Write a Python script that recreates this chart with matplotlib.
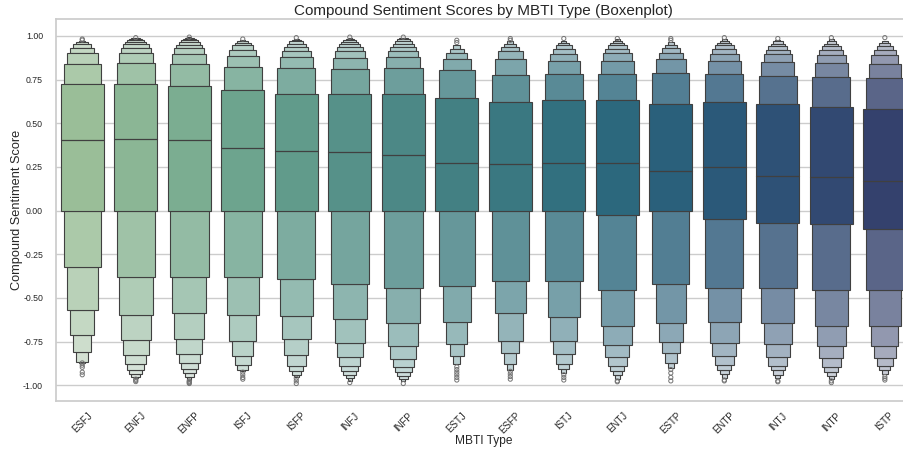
import numpy as np
import matplotlib
matplotlib.use("Agg")
import matplotlib.pyplot as plt
import seaborn as sns

types = ["ESFJ", "ENFJ", "ENFP", "ISFJ", "ISFP", "INFJ", "INFP", "ESTJ",
         "ESFP", "ISTJ", "ENTJ", "ESTP", "ENTP", "INTJ", "INTP", "ISTP"]

medians = [0.403, 0.412, 0.403, 0.357, 0.340, 0.334, 0.317, 0.273,
           0.266, 0.273, 0.271, 0.225, 0.250, 0.200, 0.191, 0.172]

# letter values, first entry = Q3 / Q1, then outwards
upper_lv = [
    [0.723, 0.838, 0.901, 0.933, 0.956, 0.966, 0.972],
    [0.725, 0.844, 0.901, 0.930, 0.952, 0.967, 0.977, 0.983, 0.987, 0.989],
    [0.716, 0.840, 0.895, 0.930, 0.948, 0.964, 0.977, 0.984, 0.988, 0.991],
    [0.689, 0.824, 0.887, 0.920, 0.945, 0.962, 0.972, 0.977],
    [0.668, 0.815, 0.880, 0.914, 0.937, 0.956, 0.970, 0.979, 0.985],
    [0.668, 0.813, 0.876, 0.914, 0.937, 0.952, 0.967, 0.978, 0.985, 0.989],
    [0.666, 0.815, 0.880, 0.914, 0.937, 0.956, 0.970, 0.980, 0.986, 0.989],
    [0.645, 0.803, 0.865, 0.903, 0.926, 0.945],
    [0.622, 0.775, 0.865, 0.914, 0.939, 0.956, 0.968],
    [0.632, 0.781, 0.859, 0.899, 0.924, 0.945, 0.960, 0.972],
    [0.632, 0.781, 0.857, 0.903, 0.926, 0.945, 0.960, 0.972, 0.980],
    [0.609, 0.786, 0.865, 0.903, 0.929, 0.948, 0.963],
    [0.622, 0.781, 0.859, 0.899, 0.926, 0.945, 0.960, 0.971, 0.980],
    [0.609, 0.771, 0.853, 0.895, 0.922, 0.941, 0.956, 0.971, 0.979],
    [0.592, 0.763, 0.842, 0.891, 0.918, 0.941, 0.956, 0.971, 0.980],
    [0.584, 0.758, 0.840, 0.891, 0.920, 0.941, 0.958, 0.971],
]
lower_lv = [
    [0.0, -0.321, -0.570, -0.715, -0.807, -0.864, -0.870],
    [0.0, -0.381, -0.599, -0.742, -0.826, -0.879, -0.910, -0.933, -0.950, -0.960],
    [0.0, -0.381, -0.589, -0.733, -0.822, -0.874, -0.904, -0.927, -0.950, -0.969],
    [0.0, -0.381, -0.599, -0.748, -0.835, -0.883, -0.912, -0.920],
    [0.0, -0.389, -0.601, -0.736, -0.826, -0.887, -0.919, -0.942, -0.955],
    [0.0, -0.418, -0.622, -0.759, -0.839, -0.887, -0.918, -0.940, -0.959, -0.975],
    [0.0, -0.442, -0.645, -0.777, -0.849, -0.897, -0.925, -0.946, -0.965, -0.978],
    [0.0, -0.433, -0.637, -0.763, -0.835, -0.881],
    [0.0, -0.401, -0.584, -0.744, -0.813, -0.881, -0.912],
    [0.0, -0.401, -0.610, -0.744, -0.822, -0.879, -0.908, -0.931],
    [-0.025, -0.454, -0.660, -0.772, -0.841, -0.889, -0.919, -0.944, -0.965],
    [0.0, -0.420, -0.645, -0.755, -0.816, -0.870, -0.900],
    [-0.049, -0.441, -0.637, -0.759, -0.835, -0.885, -0.915, -0.938, -0.959],
    [-0.069, -0.441, -0.645, -0.765, -0.839, -0.889, -0.915, -0.940, -0.961],
    [-0.078, -0.456, -0.658, -0.778, -0.845, -0.893, -0.923, -0.946, -0.965],
    [-0.105, -0.456, -0.660, -0.778, -0.845, -0.889, -0.915, -0.936],
]

fliers_hi = [[0.976, 0.982], [0.990], [0.993], [0.982], [0.990], [0.993], [0.993], [0.962, 0.975],
             [0.975, 0.985], [0.985], [0.985], [0.975, 0.985], [0.990], [0.985], [0.990], [0.990]]
fliers_lo = [[-0.872, -0.885, -0.897, -0.925, -0.940],
             [-0.965, -0.972, -0.979],
             [-0.975, -0.980, -0.985, -0.990],
             [-0.925, -0.940, -0.955, -0.965],
             [-0.960, -0.975, -0.990],
             [-0.985],
             [-0.990],
             [-0.895, -0.910, -0.925, -0.940, -0.955, -0.970],
             [-0.920, -0.935, -0.950, -0.965],
             [-0.940, -0.955, -0.970],
             [-0.975, -0.980],
             [-0.910, -0.930, -0.955, -0.975],
             [-0.970, -0.975],
             [-0.975, -0.980],
             [-0.975, -0.985],
             [-0.950, -0.960, -0.970]]

sns.set_theme(style="whitegrid")
plt.rcParams['font.family'] = ['Liberation Sans', 'DejaVu Sans']
plt.rcParams['axes.unicode_minus'] = False

fig = plt.figure(figsize=(9.04, 4.5), dpi=100)
ax = fig.add_axes([0.0614, 0.1089, 0.947, 0.849])

# seaborn desaturates the palette to 0.75 for filled categorical plots
palette = [sns.desaturate(c, 0.75) for c in sns.color_palette("crest", len(types))]
line_c = "0.25"
full_w = 0.8

for i, name in enumerate(types):
    up = upper_lv[i]
    lo = lower_lv[i]
    k = len(up)
    cmap = sns.light_palette(palette[i], as_cmap=True)
    # central box
    ax.bar(i, up[0] - lo[0], full_w, bottom=lo[0], color=cmap(1.0),
           edgecolor=line_c, linewidth=0.8, zorder=3)
    for j in range(1, k):
        w = full_w * (k - j) / k
        c = cmap(2 ** (-j / 3))
        ax.bar(i, up[j] - up[j - 1], w, bottom=up[j - 1], color=c,
               edgecolor=line_c, linewidth=0.8, zorder=3 - j * 0.01)
        ax.bar(i, lo[j - 1] - lo[j], w, bottom=lo[j], color=c,
               edgecolor=line_c, linewidth=0.8, zorder=3 - j * 0.01)
    ax.plot([i - full_w / 2, i + full_w / 2], [medians[i], medians[i]],
            color=line_c, linewidth=0.9, zorder=4)
    fl = fliers_hi[i] + fliers_lo[i]
    ax.scatter([i] * len(fl), fl, s=9, facecolors="none", edgecolors="0.45",
               linewidths=0.7, zorder=4)

ax.set_xlim(-0.5, len(types) - 0.5)
ax.set_ylim(-1.09, 1.097)
ax.set_xticks(range(len(types)))
ax.set_xticklabels(types, rotation=45, fontsize=7)
ax.set_yticks(np.arange(-1.0, 1.01, 0.25))
ax.set_yticklabels([f"{v:.2f}" for v in np.arange(-1.0, 1.01, 0.25)], fontsize=6.3)
ax.tick_params(axis="y", pad=3)
ax.tick_params(axis="x", pad=1)
ax.grid(False, axis="x")
ax.set_axisbelow(True)

ax.set_title("Compound Sentiment Scores by MBTI Type (Boxenplot)", fontsize=11, pad=3)
ax.set_xlabel("MBTI Type", fontsize=8.6, labelpad=-1)
ax.set_ylabel("Compound Sentiment Score", fontsize=9.2, labelpad=0)

fig.savefig("out.png", dpi=100)
